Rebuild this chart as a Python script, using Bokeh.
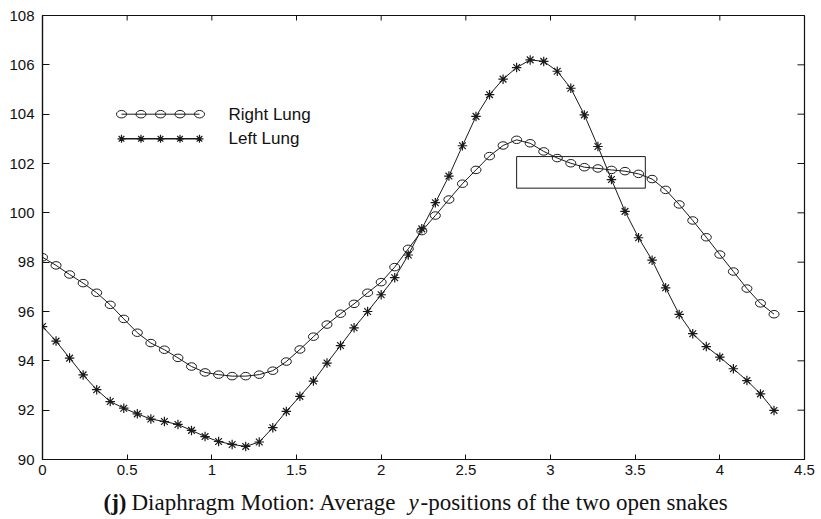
from bokeh.plotting import figure
from bokeh.models import LinearAxis, Range1d, Label, FixedTicker
from bokeh.layouts import column
from bokeh.embed import file_html
from bokeh.resources import INLINE

# ---------------- data ----------------
t = [0.00, 0.08, 0.16, 0.24, 0.32, 0.40, 0.48, 0.56, 0.64, 0.72,
     0.80, 0.88, 0.96, 1.04, 1.12, 1.20, 1.28, 1.36, 1.44, 1.52,
     1.60, 1.68, 1.76, 1.84, 1.92, 2.00, 2.08, 2.16, 2.24, 2.32,
     2.40, 2.48, 2.56, 2.64, 2.72, 2.80, 2.88, 2.96, 3.04, 3.12,
     3.20, 3.28, 3.36, 3.44, 3.52, 3.60, 3.68, 3.76, 3.84, 3.92,
     4.00, 4.08, 4.16, 4.24, 4.32]

right_lung = [98.20, 97.87, 97.50, 97.15, 96.76, 96.27, 95.70, 95.14, 94.72, 94.45,
              94.12, 93.77, 93.53, 93.44, 93.38, 93.38, 93.44, 93.60, 93.97, 94.46,
              94.98, 95.47, 95.91, 96.31, 96.76, 97.19, 97.80, 98.54, 99.26, 99.89,
              100.54, 101.18, 101.74, 102.30, 102.73, 102.96, 102.82, 102.49, 102.22, 102.01,
              101.85, 101.80, 101.74, 101.69, 101.58, 101.37, 100.93, 100.34, 99.69, 99.01,
              98.31, 97.62, 96.93, 96.33, 95.89]

left_lung = [95.39, 94.80, 94.11, 93.43, 92.83, 92.35, 92.08, 91.85, 91.64, 91.54,
             91.42, 91.18, 90.93, 90.73, 90.61, 90.53, 90.71, 91.29, 91.95, 92.56,
             93.18, 93.91, 94.62, 95.34, 96.00, 96.68, 97.37, 98.29, 99.35, 100.41,
             101.49, 102.72, 103.91, 104.79, 105.42, 105.89, 106.20, 106.14, 105.74, 105.05,
             103.97, 102.69, 101.35, 100.06, 98.99, 98.08, 96.96, 95.88, 95.10, 94.58,
             94.15, 93.68, 93.20, 92.66, 91.99]

series_names = ["Right Lung", "Left Lung"]

x_ticks = [0, 0.5, 1, 1.5, 2, 2.5, 3, 3.5, 4, 4.5]
x_tick_labels = ["0", "0.5", "1", "1.5", "2", "2.5", "3", "3.5", "4", "4.5"]
y_ticks = [90, 92, 94, 96, 98, 100, 102, 104, 106, 108]
y_tick_labels = ["90", "92", "94", "96", "98", "100", "102", "104", "106", "108"]

# highlighted region (rectangle)
box_left, box_right, box_bottom, box_top = 2.80, 3.56, 101.0, 102.28

caption_bold = "(j)"
caption_main = "Diaphragm Motion: Average"
caption_var = "y"
caption_rest = "-positions of the two open snakes"

# ---------------- layout ----------------
X_RANGE = (0, 4.5)
Y_RANGE = (90, 108)
W = 821
PLOT_H = 484
CAP_H = 35
B_LEFT, B_TOP, B_RIGHT = 42, 15, 17
B_BOTTOM = PLOT_H - B_TOP - 444
FRAME_W = W - B_LEFT - B_RIGHT
FRAME_H = PLOT_H - B_TOP - B_BOTTOM
LABEL_SHIFT = 6  # px: labels with alphabetic baseline render this much lower

X_PER_PX = (X_RANGE[1] - X_RANGE[0]) / FRAME_W
Y_PER_PX = (Y_RANGE[1] - Y_RANGE[0]) / FRAME_H


def px_x(px):
    return X_RANGE[0] + (px - B_LEFT) * X_PER_PX


def px_y(py):
    return Y_RANGE[1] - (py - B_TOP) * Y_PER_PX


p = figure(width=W, height=PLOT_H, title=None,
           min_border_left=B_LEFT, min_border_top=B_TOP,
           min_border_right=B_RIGHT, min_border_bottom=B_BOTTOM,
           x_range=Range1d(*X_RANGE), y_range=Range1d(*Y_RANGE),
           output_backend="svg", toolbar_location=None,
           x_axis_location=None, y_axis_location=None)
p.grid.visible = False
p.background_fill_color = "white"
p.border_fill_color = "white"
p.outline_line_color = "#111111"
p.outline_line_width = 1.2

ink = "#111111"


def make_axis(ticks, labels, tick_len, standoff):
    ax = LinearAxis(ticker=FixedTicker(ticks=ticks))
    ax.major_label_overrides = {tk: lb for tk, lb in zip(ticks, labels)}
    ax.minor_tick_line_color = None
    ax.major_tick_in = tick_len
    ax.major_tick_out = 0
    ax.axis_line_color = ink
    ax.axis_line_width = 1.2
    ax.major_tick_line_color = ink
    ax.major_tick_line_width = 1
    ax.major_label_text_font = "Liberation Sans"
    ax.major_label_text_font_size = "15px"
    ax.major_label_text_color = ink
    ax.major_label_standoff = standoff
    return ax


p.add_layout(make_axis(y_ticks, y_tick_labels, 7, 8), "left")
p.add_layout(make_axis(x_ticks, x_tick_labels, 5, 5), "below")

# inward ticks on the top and right edges of the box
top_len, right_len = 5 * Y_PER_PX, 7 * X_PER_PX
p.segment(x0=x_ticks, y0=[Y_RANGE[1]] * len(x_ticks), x1=x_ticks,
          y1=[Y_RANGE[1] - top_len] * len(x_ticks), line_color=ink, line_width=1)
p.segment(x0=[X_RANGE[1]] * len(y_ticks), y0=y_ticks,
          x1=[X_RANGE[1] - right_len] * len(y_ticks), y1=y_ticks,
          line_color=ink, line_width=1)

line_col = "#1a1a1a"

# series
p.line(t, right_lung, line_color=line_col, line_width=1)
p.ellipse(x=t, y=right_lung, width=10, height=7.5, width_units="screen",
          height_units="screen", fill_color=None, line_color=line_col, line_width=1)
p.line(t, left_lung, line_color=line_col, line_width=1)
p.scatter(t, left_lung, marker="asterisk", size=9.5, line_color=line_col, line_width=1.2)

# highlight rectangle
p.quad(left=[box_left], right=[box_right], bottom=[box_bottom], top=[box_top],
       fill_color=None, line_color=line_col, line_width=1)

# hand-drawn legend (line with five markers, as in the reference)
leg_x0, leg_x1 = px_x(121), px_x(199)
leg_rows = [px_y(113.7), px_y(138.3)]
leg_xs = [leg_x0 + i * (leg_x1 - leg_x0) / 4 for i in range(5)]
p.line([leg_x0, leg_x1], [leg_rows[0]] * 2, line_color=line_col, line_width=1)
p.ellipse(x=leg_xs, y=[leg_rows[0]] * 5, width=10, height=7.5, width_units="screen",
          height_units="screen", fill_color=None, line_color=line_col, line_width=1)
p.line([leg_x0, leg_x1], [leg_rows[1]] * 2, line_color=line_col, line_width=1.4)
p.scatter(leg_xs, [leg_rows[1]] * 5, marker="asterisk", size=8, line_color=line_col,
          line_width=1.2)
for name, row in zip(series_names, leg_rows):
    p.add_layout(Label(x=px_x(228), y=row - (6 - LABEL_SHIFT) * Y_PER_PX, text=name,
                       text_font="Liberation Sans", text_font_size="17px",
                       text_color=ink, text_baseline="alphabetic"))

# caption strip below the chart; the column aligns its frame with the plot's
# frame, so the x range is set so that one unit equals one page pixel
cap = figure(width=W, height=CAP_H, title=None,
             x_range=Range1d(B_LEFT, W - B_RIGHT), y_range=Range1d(0, CAP_H),
             output_backend="svg", toolbar_location=None,
             x_axis_location=None, y_axis_location=None,
             min_border=0)
cap.grid.visible = False
cap.outline_line_color = None
cap.background_fill_color = "white"
cap.border_fill_color = "white"
cap_baseline = 11 + LABEL_SHIFT
cap_parts = [
    (caption_bold, 103, "bold"),
    (caption_main, 131, "normal"),
    (caption_var, 408, "italic"),
    (caption_rest, 420, "normal"),
]
for txt, px, style in cap_parts:
    cap.add_layout(Label(x=px, y=cap_baseline, text=txt, text_font="Liberation Serif",
                         text_font_size="23px", text_font_style=style,
                         text_color=ink, text_baseline="alphabetic"))

layout = column(p, cap, spacing=0)
open("out.html", "w").write(file_html(layout, INLINE))
